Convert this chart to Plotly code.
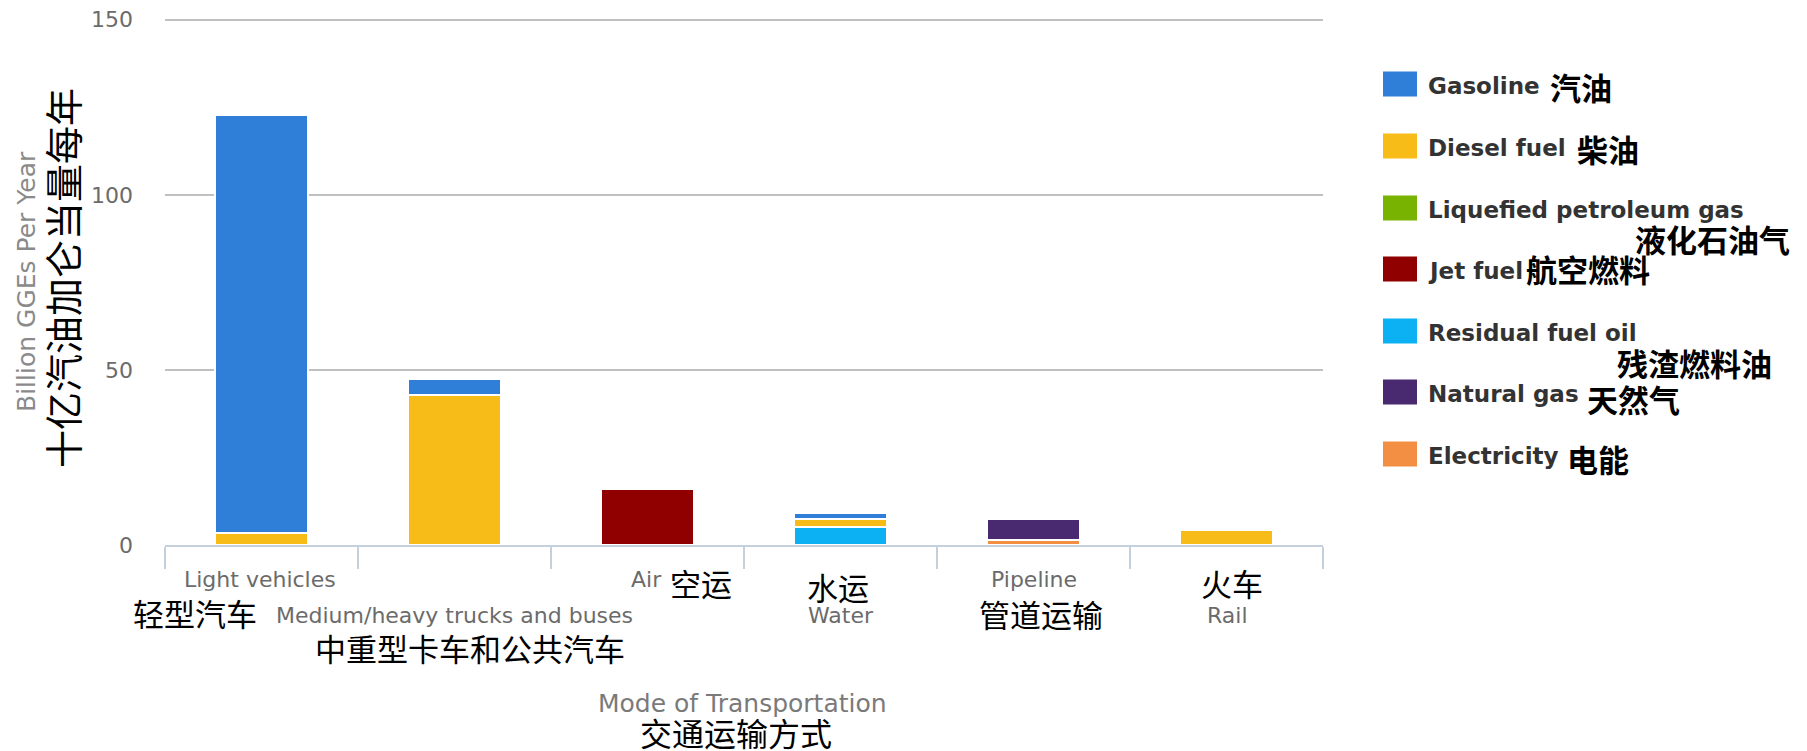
import plotly.graph_objects as go

# ---------------- data ----------------
categories = ["Light vehicles", "Medium/heavy trucks and buses", "Air", "Water", "Pipeline", "Rail"]
categories_zh = ["轻型汽车", "中重型卡车和公共汽车", "空运", "水运", "管道运输", "火车"]

series_names = ["Gasoline", "Diesel fuel", "Liquefied petroleum gas", "Jet fuel",
                "Residual fuel oil", "Natural gas", "Electricity"]
series_names_zh = ["汽油", "柴油", "液化石油气", "航空燃料", "残渣燃料油", "天然气", "电能"]

gasoline = [119.6, 4.6, 0, 1.7, 0, 0]
diesel = [3.3, 42.8, 0, 2.5, 0, 4.3]
lpg = [0, 0, 0, 0, 0, 0]
jet_fuel = [0, 0, 15.9, 0, 0, 0]
residual_fuel_oil = [0, 0, 0, 5.0, 0, 0]
natural_gas = [0, 0, 0, 0, 5.8, 0]
electricity = [0, 0, 0, 0, 1.5, 0]

y_ticks = [0, 50, 100, 150]

# ---------------- style ----------------
colors = ["#2f7ed8", "#f8bc19", "#77b300", "#910000", "#0bb1f2", "#492970", "#f28f43"]
series_values = [gasoline, diesel, lpg, jet_fuel, residual_fuel_oil, natural_gas, electricity]

W_FIG, H_FIG = 1807, 751
L, R, T, B = 165, 1323, 18, 545
PW, PH = R - L, B - T
Y_MAX = 150.5  # a hair above 150 so the top gridline is drawn


def px_x(px):
    return (px - L) / PW


def px_y(py):
    return (B - py) / PH


GRAY = "#6b6b6b"
EN_FONT = "DejaVu Sans"
ZH_FONT = "Noto Sans CJK SC"

fig = go.Figure()
# Plotly stacks the first trace at the bottom; the reference has the first series on top
for name, vals, col in reversed(list(zip(series_names, series_values, colors))):
    fig.add_trace(go.Bar(
        x=categories,
        y=[v if v else None for v in vals],
        name=name,
        marker=dict(color=col, line=dict(color="white", width=2)),
        showlegend=False,
    ))

annotations = []

# category labels (staggered in two rows like the reference)
en_rows = [579, 615, 579, 615, 579, 615]
en_dx = [-2, 0, -1, 0, 0, 1]
for i, cat in enumerate(categories):
    annotations.append(dict(
        x=cat, xref="x", y=0, yref="paper", yanchor="middle", xanchor="center",
        xshift=en_dx[i], yshift=-(en_rows[i] - B), text=cat, showarrow=False,
        font=dict(family=EN_FONT, size=22, color=GRAY),
    ))

zh_pos = [(-67, 612), (15, 647), (53, 582), (-3, 586), (7, 613), (5, 582)]
for cat, zh, (dx, py) in zip(categories, categories_zh, zh_pos):
    annotations.append(dict(
        x=cat, xref="x", y=0, yref="paper", yanchor="middle", xanchor="center",
        xshift=dx, yshift=-(py - B), text=zh, showarrow=False,
        font=dict(family=ZH_FONT, size=31, color="black"),
    ))

# axis titles
annotations.append(dict(
    x=px_x(742), xref="paper", y=px_y(703), yref="paper", xanchor="center", yanchor="middle",
    text="Mode of Transportation", showarrow=False,
    font=dict(family=EN_FONT, size=25, color="#7a7a7a"),
))
annotations.append(dict(
    x=px_x(736), xref="paper", y=px_y(732), yref="paper", xanchor="center", yanchor="middle",
    text="交通运输方式", showarrow=False,
    font=dict(family=ZH_FONT, size=32, color="black"),
))
annotations.append(dict(
    x=px_x(26), xref="paper", y=px_y(282), yref="paper", xanchor="center", yanchor="middle",
    text="Billion GGEs Per Year", textangle=-90, showarrow=False,
    font=dict(family=EN_FONT, size=25, color="#8a8a8a"),
))
annotations.append(dict(
    x=px_x(61), xref="paper", y=px_y(278), yref="paper", xanchor="center", yanchor="middle",
    text="十亿汽油加仑当量每年", textangle=-90, showarrow=False,
    font=dict(family=ZH_FONT, size=38, color="black"),
))

# custom legend (large swatches like the reference)
shapes = []
sw_centers = [84, 146, 208, 269, 331, 392, 454]
zh_legend_pos = [(1548, 86), (1575, 148), (1633, 239), (1524, 268), (1615, 362), (1585, 398), (1565, 458)]
for name, zh, col, cy, (zx, zy) in zip(series_names, series_names_zh, colors, sw_centers, zh_legend_pos):
    shapes.append(dict(
        type="rect", xref="paper", yref="paper",
        x0=px_x(1383), x1=px_x(1417), y0=px_y(cy + 12.5), y1=px_y(cy - 12.5),
        fillcolor=col, line=dict(width=0),
    ))
    annotations.append(dict(
        x=px_x(1426), xref="paper", y=px_y(cy + 2), yref="paper", xanchor="left", yanchor="middle",
        text=name, showarrow=False,
        font=dict(family=EN_FONT, size=23, color="#333333", weight="bold"),
    ))
    annotations.append(dict(
        x=px_x(zx), xref="paper", y=px_y(zy), yref="paper", xanchor="left", yanchor="middle",
        text=zh, showarrow=False,
        font=dict(family=ZH_FONT, size=31, color="black", weight="bold"),
    ))

fig.update_layout(
    width=W_FIG, height=H_FIG,
    margin=dict(l=L, r=W_FIG - R, t=T, b=H_FIG - B),
    barmode="stack",
    bargap=0.515,
    plot_bgcolor="white",
    paper_bgcolor="white",
    annotations=annotations,
    shapes=shapes,
    showlegend=False,
)

fig.update_xaxes(
    type="category",
    range=[-0.5, len(categories) - 0.5],
    automargin=False,
    showticklabels=False,
    showline=True, linecolor="#c4d0dc", linewidth=2,
    ticks="outside", tickson="boundaries", ticklen=22, tickwidth=2, tickcolor="#c4d0dc",
    showgrid=False, zeroline=False,
)
fig.update_yaxes(
    range=[0, Y_MAX],
    automargin=False,
    tickvals=y_ticks,
    ticktext=[str(v) for v in y_ticks],
    tickfont=dict(family=EN_FONT, size=22, color=GRAY),
    ticklabelstandoff=31,
    showgrid=True, gridcolor="#c0c0c0", gridwidth=1.6,
    zeroline=False, showline=False,
)

fig.write_html("out.html")
